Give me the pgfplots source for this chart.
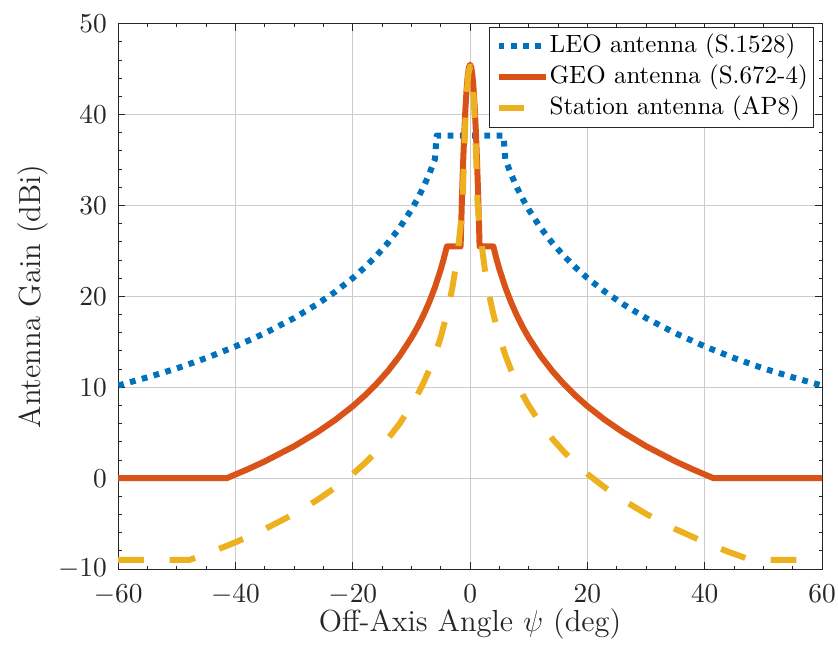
\documentclass[border=0pt]{standalone}
\usepackage{pgfplots}
\pgfplotsset{compat=1.18}
\definecolor{mblue}{rgb}{0,0.447,0.741}
\definecolor{morange}{rgb}{0.85,0.325,0.098}
\definecolor{myellow}{rgb}{0.929,0.694,0.125}
\definecolor{axgray}{rgb}{0.15,0.15,0.15}
\pgfplotstableread{
x y
-60 10.20
-55 11.10
-50 12.08
-45 13.22
-40 14.50
-35 15.95
-30 17.62
-26 19.18
-23 20.51
-20 22.02
-18 23.17
-16 24.45
-14 25.90
-12 27.57
-10 29.55
-9 30.69
-8 31.97
-7 33.42
-6 35.10
-5.7 37.7
5.7 37.7
6 35.10
7 33.42
8 31.97
9 30.69
10 29.55
12 27.57
14 25.90
16 24.45
18 23.17
20 22.02
23 20.51
26 19.18
30 17.62
35 15.95
40 14.50
45 13.22
50 12.08
55 11.10
60 10.20
}\leo
\pgfplotstableread{
x y
-60 0
-41.5 0
-38 0.96
-35 1.85
-30 3.52
-26 5.08
-23 6.41
-20 7.92
-18 9.07
-16 10.35
-14 11.80
-12 13.47
-10 15.45
-9 16.59
-8 17.87
-7 19.32
-6 21.00
-5 22.98
-4.5 24.12
-3.96 25.5
-1.62 25.5
-1.4 30.59
-1.2 34.55
-1.0 37.89
-0.8 40.63
-0.6 42.76
-0.4 44.28
-0.2 45.2
0 45.5
0.2 45.2
0.4 44.28
0.6 42.76
0.8 40.63
1.0 37.89
1.2 34.55
1.4 30.59
1.62 25.5
3.96 25.5
4.5 24.12
5 22.98
6 21.00
7 19.32
8 17.87
9 16.59
10 15.45
12 13.47
14 11.80
16 10.35
18 9.07
20 7.92
23 6.41
26 5.08
30 3.52
35 1.85
38 0.96
41.5 0
60 0
}\geo
\pgfplotstableread{
x y
-60 -9.0
-47.9 -9.0
-44 -8.09
-40 -7.05
-35 -5.60
-30 -3.93
-26 -2.37
-23 -1.04
-20 0.47
-18 1.62
-16 2.90
-14 4.35
-12 6.02
-10 8.0
-9 9.14
-8 10.42
-7 11.87
-6 13.55
-5 15.53
-4 17.95
-3.5 19.40
-3 21.07
-2.5 23.05
-2 25.47
-1.5 28.60
-1.26 30.49
-1.15 33.0
-1.0 36.0
-0.8 39.3
-0.6 42.0
-0.3 44.5
0 45.3
0.3 44.5
0.6 42.0
0.8 39.3
1.0 36.0
1.15 33.0
1.26 30.49
1.5 28.60
2 25.47
2.5 23.05
3 21.07
3.5 19.40
4 17.95
5 15.53
6 13.55
7 11.87
8 10.42
9 9.14
10 8.0
12 6.02
14 4.35
16 2.90
18 1.62
20 0.47
23 -1.04
26 -2.37
30 -3.93
35 -5.60
40 -7.05
44 -8.09
47.9 -9.0
60 -9.0
}\station
\begin{document}
\begin{tikzpicture}
\begin{axis}[
  scale only axis, width=281.6pt, height=218.2pt,
  xmin=-60, xmax=60, ymin=-10, ymax=50,
  xtick={-60,-40,...,60}, ytick={-10,0,...,50},
  minor x tick num=3, minor y tick num=4,
  tick align=inside, xtick pos=both, ytick pos=both,
  major tick length=2.8pt, minor tick length=1.4pt,
  axis line style={axgray, line width=0.4pt},
  every tick/.style={axgray, line width=0.4pt},
  grid=major, major grid style={black!20, line width=0.4pt},
  tick label style={font=\fontsize{11.1}{13.3}\selectfont, text=axgray, inner sep=0.5pt},
  xticklabel style={yshift=-5.8pt}, yticklabel style={xshift=-3.9pt},
  xlabel={Off-Axis Angle $\psi$ (deg)}, ylabel={Antenna Gain (dBi)},
  label style={font=\fontsize{12.2}{14.6}\selectfont, text=axgray, inner sep=0pt},
  xlabel style={at={([yshift=-25pt]axis description cs:0.5,0)}, anchor=base},
  ylabel style={at={([xshift=-31.1pt]axis description cs:0,0.5)}, anchor=base},
  legend style={at={(1,1)}, anchor=north east, xshift=-3.1pt, yshift=-1.4pt,
    draw=axgray, line width=0.4pt, fill=white, inner xsep=2.4pt, inner ysep=2.5pt,
    row sep=2.4pt, column sep=0.3pt, font=\fontsize{10}{12}\selectfont,
    nodes={inner sep=0pt, text height=7.5pt, text depth=2.5pt}},
  legend cell align=left,
  legend image code/.code={\draw[#1] (0pt,0pt) -- (18.9pt,0pt);},
]
\addplot[mblue, line width=2.4pt, dash pattern=on 2.3pt off 2.6pt, line join=round] table {\leo};
\addlegendentry{LEO antenna (S.1528)}
\addplot[morange, line width=2.4pt, solid, line join=round] table {\geo};
\addlegendentry{GEO antenna (S.672-4)}
\addplot[myellow, line width=2.4pt, dash pattern=on 10.3pt off 10.3pt, line join=round] table {\station};
\addlegendentry{Station antenna (AP8)}
\end{axis}
\pgfresetboundingbox
\path[use as bounding box] ([xshift=-47.3pt,yshift=-32pt]current axis.south west) rectangle ([xshift=6.4pt,yshift=9.5pt]current axis.north east);
\end{tikzpicture}
\end{document}
